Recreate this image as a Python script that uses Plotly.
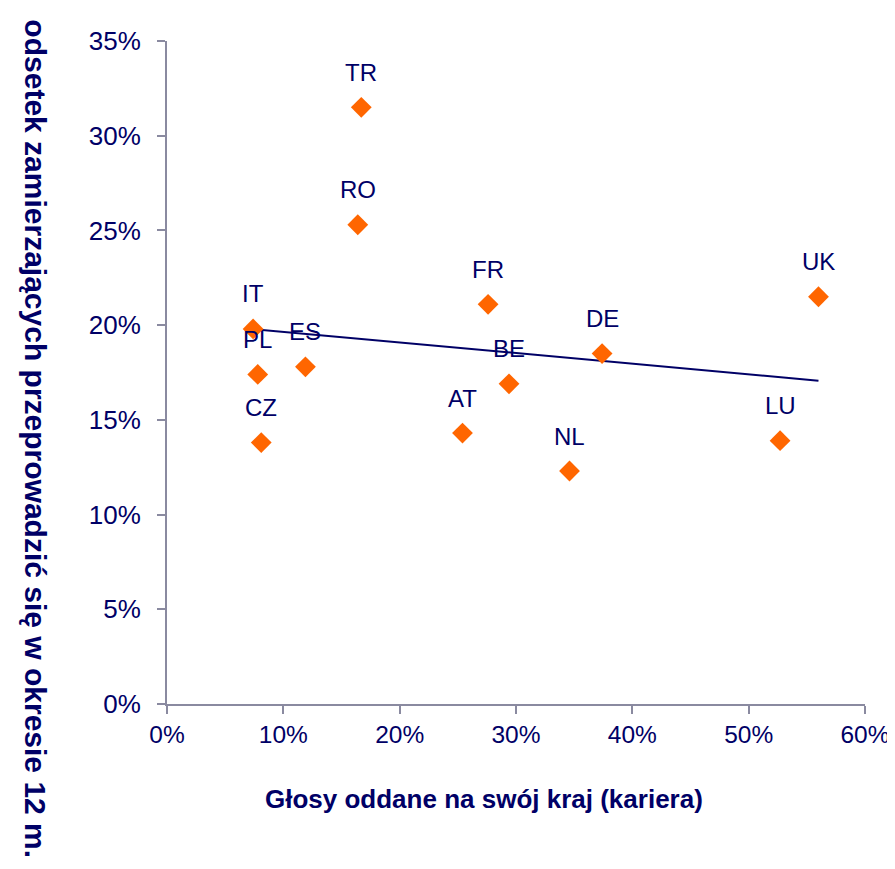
"""
Scatter: share planning to move vs. votes cast for own country (career).
"""

import numpy as np
import plotly.graph_objects as go

# data (values in %)
countries = ['IT', 'PL', 'ES', 'CZ', 'TR', 'RO', 'FR', 'AT', 'BE', 'NL', 'DE', 'LU', 'UK']
votes_own_country = [7.4, 7.8, 11.9, 8.1, 16.7, 16.4, 27.6, 25.4, 29.4, 34.6, 37.4, 52.7, 56.0]
share_moving = [19.8, 17.4, 17.8, 13.8, 31.5, 25.3, 21.1, 14.3, 16.9, 12.3, 18.5, 13.9, 21.5]

x_ticks = [0, 10, 20, 30, 40, 50, 60]
y_ticks = [0, 5, 10, 15, 20, 25, 30, 35]

colors = {
    'text': '#000066',
    'marker': '#ff6600',
    'axis': '#8a8aa0',
}

x = np.array(votes_own_country) / 100
y = np.array(share_moving) / 100

# linear trend line over the range of the data
slope, intercept = np.polyfit(x, y, 1)
trend_x = np.array([x.min(), x.max()])
trend_y = slope * trend_x + intercept

fig = go.Figure()

fig.add_trace(go.Scatter(
    x=trend_x, y=trend_y,
    mode='lines',
    line=dict(color=colors['text'], width=2),
    hoverinfo='skip',
    showlegend=False
))

fig.add_trace(go.Scatter(
    x=x, y=y,
    mode='markers',
    marker=dict(symbol='diamond', size=16, color=colors['marker']),
    text=countries,
    hovertemplate='%{text}<br>%{x:.0%} / %{y:.1%}<extra></extra>',
    showlegend=False
))

# country labels above the markers
for name, xv, yv in zip(countries, x, y):
    fig.add_annotation(
        x=xv, y=yv, text=name,
        showarrow=False, yshift=35,
        font=dict(size=24, color=colors['text'])
    )

# vertical title reading top to bottom (runs off the page like the original)
fig.add_annotation(
    xref='paper', yref='paper',
    x=-0.215, y=0.4,
    text='<b>odsetek zamierzających przeprowadzić się w okresie 12 m.</b>',
    textangle=90, showarrow=False,
    font=dict(size=30, color=colors['text'])
)

# horizontal title, a bit left of the plot centre
fig.add_annotation(
    xref='paper', yref='paper',
    x=0.454, y=-0.169,
    text='<b>Głosy oddane na swój kraj (kariera)</b>',
    showarrow=False,
    font=dict(size=26, color=colors['text'])
)

axis_common = dict(
    showgrid=False, zeroline=False,
    showline=True, linecolor=colors['axis'], linewidth=2,
    ticks='outside', ticklen=8, tickwidth=2, tickcolor=colors['axis'],
    tickformat='.0%',
)

fig.update_xaxes(
    range=[0, 0.6],
    tickvals=[t / 100 for t in x_ticks],
    tickfont=dict(size=24.5, color=colors['text']),
    **axis_common
)

fig.update_yaxes(
    range=[0, 0.35],
    tickvals=[t / 100 for t in y_ticks],
    tickfont=dict(size=26, color=colors['text']),
    ticklabelstandoff=11,
    **axis_common
)

fig.update_layout(
    width=895, height=869,
    margin=dict(l=159, r=38, t=33, b=173),
    paper_bgcolor='white',
    plot_bgcolor='white',
    font=dict(family='Liberation Sans, Arial, sans-serif', color=colors['text']),
)

fig.write_html("out.html")
